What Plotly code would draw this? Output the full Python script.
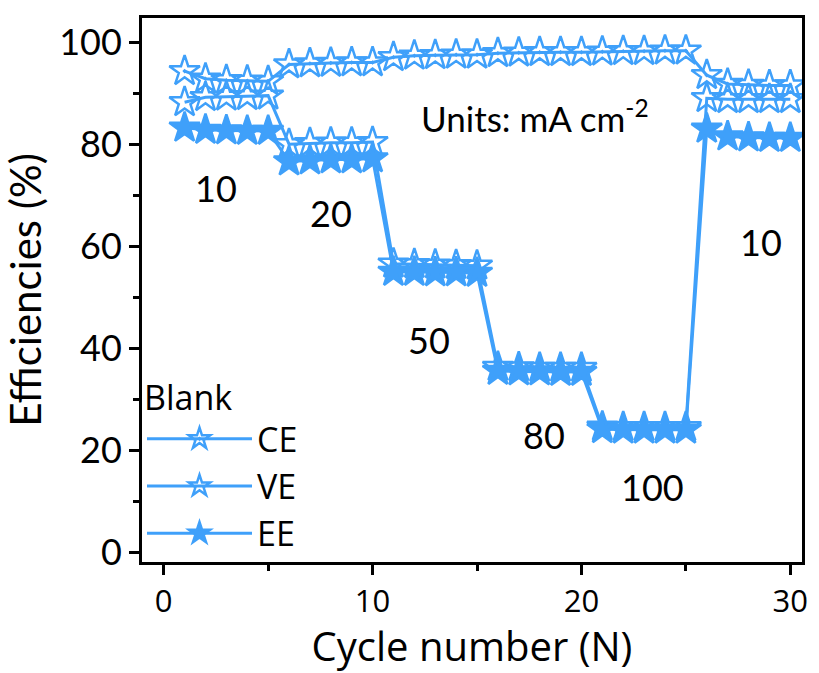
import plotly.graph_objects as go

# Cycling data (blank electrolyte) at stepped current densities
cycles = list(range(1, 31))
ce = [94.3, 92.8, 92.5, 92.4, 92.3, 95.6, 95.8, 95.9, 96.0, 96.0,
      97.0, 97.3, 97.4, 97.5, 97.5, 97.8, 97.9, 98.0, 98.0, 98.0,
      98.1, 98.2, 98.2, 98.3, 98.3, 93.5, 91.8, 91.6, 91.5, 91.5]
ve = [88.2, 89.2, 89.3, 89.4, 89.5, 80.0, 80.2, 80.3, 80.3, 80.4,
      56.6, 56.5, 56.4, 56.3, 56.2, 36.4, 36.3, 36.2, 36.2, 36.2,
      24.7, 24.6, 24.6, 24.6, 24.6, 89.0, 88.8, 88.8, 88.8, 88.8]
ee = [83.2, 82.8, 82.7, 82.6, 82.6, 76.6, 76.8, 77.0, 77.0, 77.2,
      55.0, 55.0, 54.9, 54.9, 54.8, 35.6, 35.5, 35.5, 35.4, 35.4,
      24.2, 24.1, 24.1, 24.1, 24.1, 83.0, 81.5, 81.3, 81.2, 81.2]

# Current density labels (mA cm-2) placed beside each step
density_labels = ["10", "20", "50", "80", "100", "10"]
density_x = [2.5, 8.0, 12.7, 18.2, 23.4, 28.6]
density_y = [71.4, 66.5, 41.7, 23.1, 12.9, 60.9]

BLUE = "#3fa0fa"
GEO = "Lato, sans-serif"
HUM = "Open Sans, sans-serif"

fig = go.Figure()
series = [("CE", ce, "star-open-dot"), ("VE", ve, "star-open"), ("EE", ee, "star")]
for name, vals, sym in series:
    fig.add_trace(go.Scatter(
        x=cycles, y=vals, name=name, mode="lines+markers",
        line=dict(color=BLUE, width=3),
        marker=dict(symbol=sym, size=23, color=BLUE,
                    line=dict(color=BLUE, width=2.5)),
    ))

for t, x, y in zip(density_labels, density_x, density_y):
    fig.add_annotation(x=x, y=y, text=t, showarrow=False,
                       font=dict(family=GEO, size=36, color="black"))
fig.add_annotation(x=17.8, y=85.5, text="Units: mA cm<sup>-2</sup>", showarrow=False,
                   font=dict(family=GEO, size=35, color="black"))

axis_common = dict(showline=True, linecolor="black", linewidth=3, mirror=True,
                   ticks="outside", tickwidth=3, tickcolor="black",
                   showgrid=False, zeroline=False)

fig.update_layout(
    width=819, height=673,
    margin=dict(l=142, r=11, t=18, b=111),
    plot_bgcolor="white", paper_bgcolor="white",
    xaxis=dict(range=[-1.04, 30.56], tickvals=[0, 10, 20, 30], ticklen=10,
               minor=dict(tickvals=[5, 15, 25], ticklen=6, tickwidth=3,
                          tickcolor="black", ticks="outside"),
               tickfont=dict(family=HUM, size=31, color="black"),
               title=dict(text="Cycle number (N)", standoff=10,
                          font=dict(family=HUM, size=40, color="black")),
               **axis_common),
    yaxis=dict(range=[-1.8, 104.7], tickvals=[0, 20, 40, 60, 80, 100], ticklen=10,
               minor=dict(tickvals=[10, 30, 50, 70, 90], ticklen=6, tickwidth=3,
                          tickcolor="black", ticks="outside"),
               tickfont=dict(family=GEO, size=36, color="black"),
               title=dict(text="Efficiencies (%)", standoff=8,
                          font=dict(family=GEO, size=42, color="black")),
               **axis_common),
    legend=dict(x=0.0, y=0.0, xanchor="left", yanchor="bottom",
                bgcolor="rgba(0,0,0,0)", borderwidth=0,
                title=dict(text="Blank", font=dict(family=HUM, size=34, color="black")),
                font=dict(family=HUM, size=34, color="black"),
                itemwidth=105, tracegroupgap=0),
    showlegend=True,
)

fig.write_html("out.html")
